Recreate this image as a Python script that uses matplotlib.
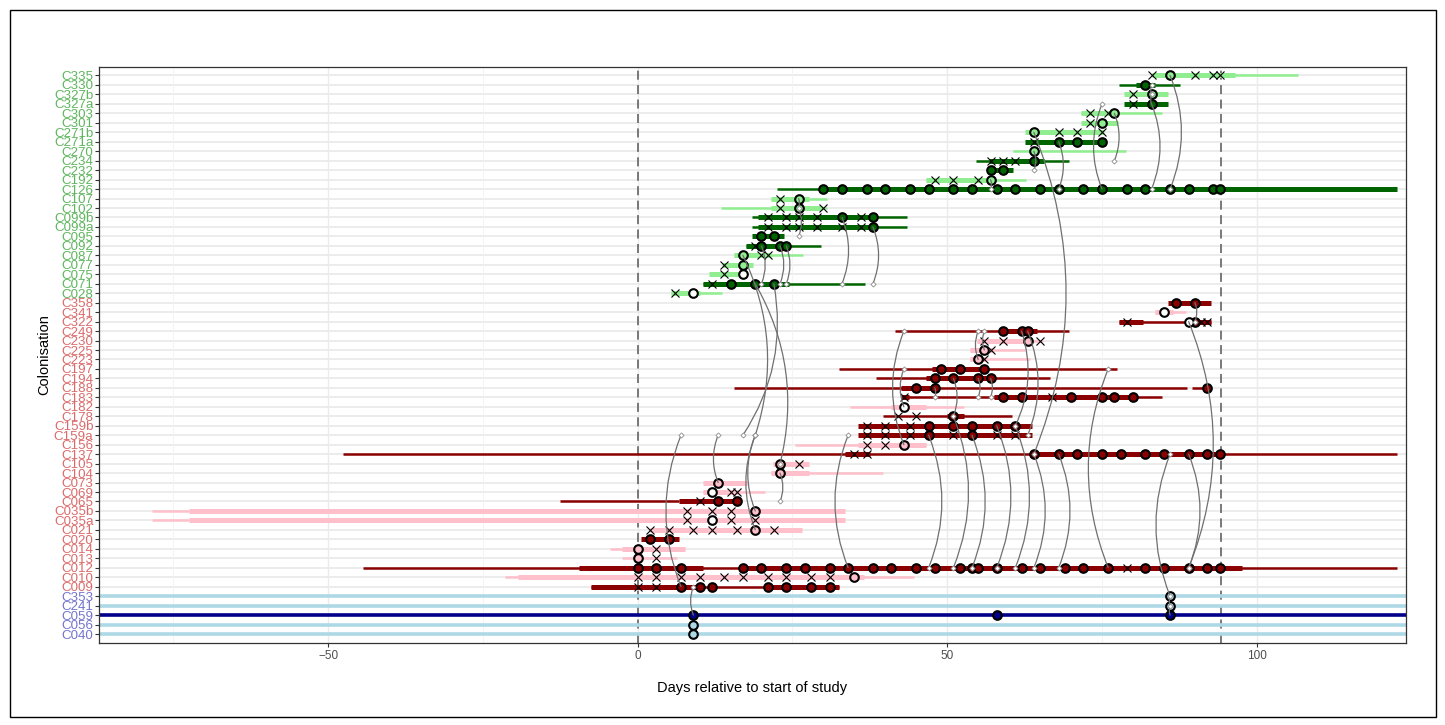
import numpy as np
import matplotlib.pyplot as plt
from matplotlib.patches import FancyArrowPatch, Rectangle

plt.rcParams['font.family'] = ['Liberation Sans', 'DejaVu Sans']

# colonisations, top to bottom
rows = ['C335', 'C330', 'C327b', 'C327a', 'C303', 'C301', 'C271b', 'C271a', 'C270',
        'C234', 'C232', 'C192', 'C126', 'C107', 'C102', 'C099b', 'C099a', 'C095',
        'C092', 'C087', 'C077', 'C075', 'C071', 'C028',
        'C358', 'C341', 'C322', 'C249', 'C230', 'C225', 'C223', 'C197', 'C194',
        'C188', 'C183', 'C182', 'C178', 'C159b', 'C159a', 'C156', 'C137', 'C105',
        'C104', 'C073', 'C069', 'C065', 'C035b', 'C035a', 'C021', 'C020', 'C014',
        'C013', 'C012', 'C010', 'C009',
        'C353', 'C241', 'C059', 'C056', 'C040']
n_green, n_red, n_blue = 24, 31, 5

light_rows = ['C335', 'C327b', 'C303', 'C301', 'C271b', 'C270', 'C192', 'C107', 'C102',
              'C087', 'C077', 'C075', 'C028',
              'C341', 'C230', 'C225', 'C223', 'C182', 'C156', 'C105', 'C104', 'C073',
              'C069', 'C035b', 'C035a', 'C021', 'C014', 'C013', 'C010',
              'C353', 'C241', 'C056', 'C040']

# thin line = time in hospital, thick = colonised
thin = {
    'C335': [(83, 106.7)], 'C330': [(77.7, 87.6)], 'C303': [(71.6, 84.7)],
    'C270': [(60.6, 78.8)], 'C234': [(54.7, 69.7)], 'C192': [(46.6, 62.7)],
    'C126': [(22.5, 30)], 'C107': [(21.6, 30.6)], 'C102': [(13.5, 30.6)],
    'C099b': [(18.5, 43.5)], 'C099a': [(18.5, 43.5)], 'C092': [(17.5, 29.6)],
    'C087': [(15.6, 26.7)], 'C071': [(10.6, 36.7)], 'C028': [(5.4, 13.6)],
    'C341': [(83.6, 88.6)], 'C322': [(77.7, 92.6)], 'C249': [(41.6, 69.7)],
    'C230': [(54.8, 65.5)], 'C225': [(53.6, 62.6)], 'C223': [(53.6, 63.4)],
    'C197': [(32.6, 77.4)], 'C194': [(38.5, 66.6)], 'C188': [(15.6, 88.7), (89.6, 92.1)],
    'C183': [(42.9, 84.7)], 'C182': [(34.3, 52.7)], 'C178': [(39.6, 60.4)],
    'C156': [(25.4, 46.6)], 'C137': [(-47.6, 122.6)], 'C104': [(21.6, 39.7)],
    'C069': [(10.6, 20.6)], 'C065': [(-12.5, 6.6)], 'C035b': [(-78.5, -72.5)],
    'C035a': [(-78.5, -72.5)], 'C014': [(-4.4, 7.7)], 'C013': [(-2.6, 6.4)],
    'C012': [(-44.4, 122.6)], 'C010': [(-21.4, 44.6)], 'C009': [(-7.6, 32.6)],
}
thick = {
    'C335': [(83, 96.5)], 'C330': [(80.5, 83.6)], 'C327b': [(78.6, 85.6)],
    'C327a': [(78.6, 85.6)], 'C303': [(71.6, 76.3)], 'C301': [(71.6, 77.6)],
    'C271b': [(62.6, 75.3)], 'C271a': [(62.6, 75.3)], 'C234': [(56.7, 65.6)],
    'C232': [(56.5, 60.7)], 'C192': [(46.6, 56.7)], 'C126': [(30, 122.6)],
    'C107': [(21.6, 27.7)], 'C102': [(21.6, 29.8)], 'C099b': [(19.5, 38.6)],
    'C099a': [(19.5, 38.6)], 'C095': [(18.5, 23.6)], 'C092': [(17.5, 24.5)],
    'C087': [(15.6, 21.6)], 'C077': [(13.6, 18.6)], 'C075': [(11.5, 17.6)],
    'C071': [(10.6, 24.5)], 'C028': [(5.4, 10.1)],
    'C358': [(85.6, 92.6)], 'C341': [(83.6, 86.5)], 'C322': [(77.7, 81.6), (88.5, 92.6)],
    'C249': [(58.6, 64.5)], 'C230': [(54.8, 62.5)], 'C225': [(53.6, 57.5)],
    'C223': [(53.6, 56.5)], 'C197': [(47.5, 56.5)], 'C194': [(46.6, 57.5)],
    'C188': [(42.6, 48.5)], 'C183': [(42.6, 43.8), (57.5, 80.6)], 'C182': [(41, 46.6)],
    'C178': [(50, 52.7)], 'C159b': [(35.6, 63.7)], 'C159a': [(35.6, 63.7)],
    'C156': [(35.6, 46.6)], 'C137': [(33.5, 37.6), (64, 94)], 'C105': [(21.9, 27.6)],
    'C104': [(21.6, 27.6)], 'C073': [(10.6, 17.6)], 'C069': [(10.6, 16.5)],
    'C065': [(6.6, 16.6)], 'C035b': [(-72.5, 33.5)], 'C035a': [(-72.5, 33.5)],
    'C021': [(2, 26.5)], 'C020': [(0.6, 6.7)], 'C014': [(-2.6, 7.7)],
    'C012': [(-9.4, 10.6), (16.6, 97.6)], 'C010': [(-19.4, 36.6)],
    'C009': [(-7.6, 10.5), (21, 32.6)],
}
# negative samples
neg = {
    'C335': [83, 90, 93, 94], 'C327b': [80], 'C327a': [80], 'C303': [73, 76],
    'C301': [73], 'C271b': [68, 71, 75], 'C271a': [64], 'C234': [57, 59, 61],
    'C192': [48, 51, 55], 'C107': [23], 'C102': [23, 30],
    'C099b': [21, 24, 26, 29, 36], 'C099a': [21, 24, 26, 29, 33, 36], 'C092': [19],
    'C087': [20, 21], 'C077': [14], 'C075': [14], 'C071': [12], 'C028': [6],
    'C322': [79, 91, 92], 'C230': [56, 59, 65], 'C225': [57], 'C223': [56],
    'C183': [43, 67], 'C178': [42, 45], 'C159b': [37, 40, 44],
    'C159a': [37, 40, 44, 51, 58, 61], 'C156': [37, 40], 'C137': [35, 37],
    'C105': [26], 'C069': [15, 16], 'C065': [10], 'C035b': [8, 12, 15],
    'C035a': [8, 15, 19], 'C021': [2, 5, 9, 12, 16, 22], 'C014': [3], 'C013': [3],
    'C012': [79], 'C010': [0, 3, 7, 10, 14, 17, 21, 24, 28, 31], 'C009': [0, 3],
}
# positive samples
pos = {
    'C335': [86], 'C330': [82], 'C327b': [83], 'C327a': [83], 'C303': [77], 'C301': [75],
    'C271b': [64], 'C271a': [68, 71, 75], 'C270': [64], 'C234': [64], 'C232': [57, 59],
    'C192': [57],
    'C126': [30, 33, 37, 40, 44, 47, 51, 54, 58, 61, 65, 68, 72, 75, 79, 82, 86, 89, 93, 94],
    'C107': [26], 'C102': [26], 'C099b': [33, 38], 'C099a': [38], 'C095': [20, 22],
    'C092': [20, 23, 24], 'C087': [17], 'C077': [17], 'C071': [15, 19, 22],
    'C358': [87, 90], 'C322': [90], 'C249': [59, 62, 63], 'C230': [63], 'C225': [56],
    'C223': [55], 'C197': [49, 52, 56], 'C194': [48, 51, 55, 57], 'C188': [45, 48, 92],
    'C183': [59, 62, 70, 75, 77, 80], 'C178': [51], 'C159b': [47, 51, 54, 58, 61],
    'C159a': [47, 54], 'C156': [43], 'C137': [64, 68, 71, 75, 78, 82, 85, 89, 92, 94],
    'C105': [23], 'C104': [23], 'C073': [13], 'C065': [13, 16], 'C035b': [19], 'C021': [19],
    'C020': [2, 5], 'C014': [0], 'C013': [0],
    'C012': [0, 3, 7, 17, 20, 24, 27, 31, 34, 38, 41, 45, 48, 52, 54, 55, 58, 62, 65, 69,
             72, 76, 82, 85, 89, 92, 94],
    'C010': [35], 'C009': [7, 10, 12, 21, 24, 28, 31],
    'C353': [86], 'C241': [86], 'C059': [9, 58, 86], 'C056': [9], 'C040': [9],
}
# positive but not sequenced (white fill)
pos_open = {'C075': [17], 'C028': [9], 'C341': [85], 'C322': [89], 'C182': [43],
            'C069': [12], 'C035a': [12]}

# links: (day from, colonisation from, day to, colonisation to)
links = [
    (86, 'C335', 86, 'C126'), (83, 'C327a', 83, 'C126'), (83, 'C327b', 83, 'C330'),
    (83, 'C327a', 83, 'C327b'), (75, 'C126', 75, 'C327a'), (77, 'C303', 77, 'C234'),
    (64, 'C271b', 64, 'C137'), (68, 'C271a', 68, 'C126'), (64, 'C270', 64, 'C232'),
    (57, 'C192', 57, 'C126'), (26, 'C107', 26, 'C102'), (26, 'C102', 26, 'C095'),
    (33, 'C099b', 33, 'C071'), (38, 'C099a', 38, 'C071'), (20, 'C092', 20, 'C071'),
    (23, 'C092', 23, 'C071'), (24, 'C092', 24, 'C071'),
    (17, 'C087', 19, 'C159a'), (22, 'C071', 17, 'C159a'), (19, 'C071', 23, 'C105'),
    (7, 'C009', 7, 'C159a'), (13, 'C073', 13, 'C159a'), (19, 'C021', 19, 'C159a'),
    (19, 'C035b', 19, 'C159a'), (9, 'C059', 9, 'C009'), (64, 'C137', 64, 'C012'),
    (68, 'C137', 68, 'C012'), (76, 'C012', 76, 'C197'), (86, 'C353', 86, 'C137'),
    (86, 'C241', 86, 'C353'), (86, 'C059', 86, 'C241'), (89, 'C137', 89, 'C012'),
    (89, 'C322', 89, 'C012'), (90, 'C358', 90, 'C322'),
    (47, 'C159a', 47, 'C012'), (51, 'C178', 51, 'C012'), (54, 'C159a', 54, 'C012'),
    (58, 'C159b', 58, 'C012'), (61, 'C159b', 61, 'C012'), (43, 'C156', 43, 'C249'),
    (23, 'C104', 23, 'C065'), (34, 'C012', 34, 'C159a'),
    (56, 'C225', 56, 'C249'), (55, 'C223', 55, 'C249'), (48, 'C188', 48, 'C183'),
    (55, 'C194', 55, 'C183'), (57, 'C194', 57, 'C183'), (51, 'C194', 51, 'C178'),
    (62, 'C249', 61, 'C159b'), (63, 'C249', 63, 'C159a'), (43, 'C182', 43, 'C197'),
]

study_end = 94.3

shade = {('g', 'light'): '#90EE90', ('g', 'dark'): '#006400',
         ('r', 'light'): '#FFC0CB', ('r', 'dark'): '#8B0000',
         ('b', 'light'): '#ADD8E6', ('b', 'dark'): '#00008B'}
label_col = {'g': '#5FB65F', 'r': '#DB6B6B', 'b': '#7474CE'}

groups = ['g'] * n_green + ['r'] * n_red + ['b'] * n_blue
ypos = {r: len(rows) - 1 - i for i, r in enumerate(rows)}

def row_colour(r):
    g = groups[rows.index(r)]
    return shade[(g, 'light' if r in light_rows else 'dark')]

fig = plt.figure(figsize=(14.45, 7.25), dpi=100)
ax = fig.add_axes([99 / 1445, 82 / 725, 1307 / 1445, 576.5 / 725])

# grid
for r in rows:
    ax.axhline(ypos[r], color='#EBEBEB', lw=1.3, zorder=0)
for v in [-75, -25, 25, 75]:
    ax.axvline(v, color='#F2F2F2', lw=0.6, zorder=0)
for v in [-50, 0, 50, 100]:
    ax.axvline(v, color='#EBEBEB', lw=1.0, zorder=0)

for v in [0, study_end]:
    ax.axvline(v, color='#6E6E6E', lw=1.3, ls=(0, (5, 3)), zorder=1)

# bars
for r in rows:
    c = row_colour(r)
    y = ypos[r]
    if groups[rows.index(r)] == 'b':
        ax.plot([-95, 130], [y, y], color=c, lw=2.6, solid_capstyle='butt', zorder=2)
        continue
    for a, b in thin.get(r, []):
        ax.plot([a, b], [y, y], color=c, lw=1.8, solid_capstyle='butt', zorder=2)
    for a, b in thick.get(r, []):
        ax.plot([a, b], [y, y], color=c, lw=3.6, solid_capstyle='butt', zorder=3)

# samples
for r in rows:
    y = ypos[r]
    c = row_colour(r)
    xs = neg.get(r, [])
    ax.plot(xs, [y] * len(xs), ls='none', marker='x', ms=6, mew=0.8, color='black', zorder=5)
    xs = pos.get(r, [])
    ax.plot(xs, [y] * len(xs), ls='none', marker='o', ms=6.2, mew=1.5, mfc=c,
            mec='black', zorder=6)
    xs = pos_open.get(r, [])
    ax.plot(xs, [y] * len(xs), ls='none', marker='o', ms=6.2, mew=1.5, mfc='white',
            mec='black', zorder=6)

# links
for x1, r1, x2, r2 in links:
    p = FancyArrowPatch((x1, ypos[r1]), (x2, ypos[r2]), connectionstyle='arc3,rad=-0.2',
                        arrowstyle='-', color='#707070', lw=0.9, shrinkA=0, shrinkB=0,
                        zorder=7)
    ax.add_patch(p)
    ax.plot(x2, ypos[r2], marker='D', ms=2.6, mfc='white', mec='#8C8C8C', mew=0.6, zorder=8)

ax.set_xlim(-87, 124.1)
ax.set_ylim(-0.95, len(rows) - 0.05)
ax.set_yticks([ypos[r] for r in rows])
ax.set_yticklabels(rows, fontsize=9.6)
for lab, g in zip(ax.get_yticklabels(), groups):
    lab.set_color(label_col[g])
ax.set_xticks([-50, 0, 50, 100])
ax.set_xticklabels(['\u221250', '0', '50', '100'], fontsize=8.5, color='#4D4D4D')
ax.tick_params(axis='both', length=3, width=0.8, color='#333333', pad=2)
ax.tick_params(axis='y', pad=1)
for s in ax.spines.values():
    s.set_color('#333333')
    s.set_linewidth(0.9)
ax.set_xlabel('Days relative to start of study', fontsize=10.5, labelpad=14)
ax.set_ylabel('Colonisation', fontsize=10.5, labelpad=2)

fig.add_artist(Rectangle((10 / 1445, 8 / 725), 1426 / 1445, 707 / 725, transform=fig.transFigure,
                         fill=False, edgecolor='black', lw=1))

fig.savefig('out.png', dpi=100)
